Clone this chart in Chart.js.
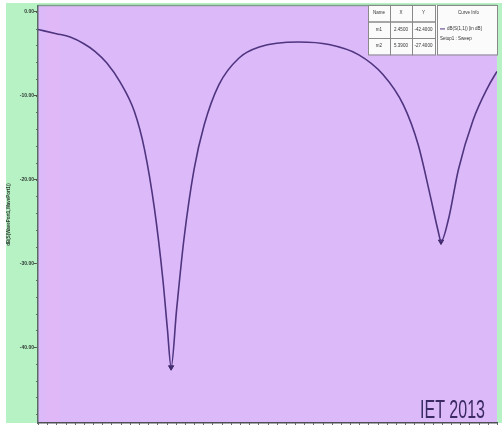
<!DOCTYPE html>
<html>
<head>
<meta charset="utf-8">
<title>Return loss</title>
<script src="https://cdn.jsdelivr.net/npm/chart.js@4/dist/chart.umd.min.js"></script>
<style>
  html, body { margin: 0; padding: 0; background: #ffffff; }
  #wrap { width: 502px; height: 428px; position: relative; }
</style>
</head>
<body>
<div id="wrap"><canvas id="c" width="502" height="428"></canvas></div>
<script>
// Frequency sweep (GHz) and simulated reflection coefficient (dB)
const freqGHz = [1.00, 1.20, 1.35, 1.50, 1.62, 1.75, 1.89, 2.05, 2.16, 2.27, 2.36, 2.41, 2.45, 2.51, 2.59, 2.70, 2.81, 2.97, 3.19, 3.41, 3.84, 4.17, 4.49, 4.76, 4.98, 5.14, 5.27, 5.36, 5.39, 5.47, 5.58, 5.74, 5.90, 6.00];
const s11dB   = [-2.1, -2.6, -3.0, -3.8, -4.7, -6.1, -8.3, -11.9, -16.4, -23.6, -31.9, -37.9, -42.4, -35.5, -27.1, -18.8, -13.5, -8.7, -5.5, -4.2, -3.6, -3.9, -5.1, -7.5, -11.1, -15.8, -21.8, -26.2, -27.4, -24.8, -18.8, -12.9, -9.0, -7.1];

// Markers placed on the two resonances
const markerNames = ['m1', 'm2'];
const markerX = [2.45, 5.39];
const markerY = [-42.4, -27.4];

// Axis ticks
const yTickValues = [0, -10, -20, -30, -40];
const yMinorStep = 2;
const xMinorStep = 0.1;

const curveLabel = 'dB(S(1,1)) [in dB]';
const setupLabel = 'Setup1 : Sweep';
const yTitle = 'dB(S(WavePort1,WavePort1))';
const stampText = 'IET 2013';

const GREEN = '#b7f2c4';
const PLOT_BG = '#dcbafa';
const LINE = '#4f347f';

const backdrop = {
  id: 'backdrop',
  beforeDraw(chart) {
    const { ctx, chartArea: a } = chart;
    ctx.save();
    ctx.fillStyle = '#ffffff';
    ctx.fillRect(0, 0, chart.width, chart.height);
    ctx.fillStyle = GREEN;
    ctx.fillRect(6, 3, chart.width - 6, a.bottom - 3);
    ctx.fillStyle = PLOT_BG;
    ctx.fillRect(a.left, a.top, a.right - a.left, a.bottom - a.top);
    // slightly pinker band near the left edge
    ctx.fillStyle = 'rgba(235,180,240,0.35)';
    ctx.fillRect(a.left + 8, a.top, 14, a.bottom - a.top);
    // frame
    ctx.strokeStyle = '#7f9c8c';
    ctx.lineWidth = 1.5;
    ctx.beginPath();
    ctx.moveTo(a.left, a.top - 0.5);
    ctx.lineTo(a.right, a.top - 0.5);
    ctx.stroke();
    ctx.restore();
  },
  afterDraw(chart) {
    const { ctx, chartArea: a, scales } = chart;
    const y = scales.y, x = scales.x;
    ctx.save();
    // minor ticks on the value axis
    ctx.strokeStyle = '#5d6d66';
    ctx.lineWidth = 1;
    ctx.beginPath();
    for (let v = 0; v >= y.min; v -= yMinorStep) {
      const py = Math.round(y.getPixelForValue(v)) + 0.5;
      ctx.moveTo(a.left - 2, py);
      ctx.lineTo(a.left, py);
    }
    // minor ticks along the frequency axis
    for (let f = x.min; f <= x.max + 1e-9; f += xMinorStep) {
      const px = Math.round(x.getPixelForValue(f)) + 0.5;
      ctx.moveTo(px, a.bottom);
      ctx.lineTo(px, a.bottom + 2);
    }
    ctx.stroke();

    // marker table
    const tx = 368, ty = 5, rowH = 16.5;
    const colW = [22, 22, 23];
    const infoW = 63;
    ctx.fillStyle = '#fbfbfb';
    ctx.fillRect(tx, ty, colW[0] + colW[1] + colW[2] + infoW, rowH * 3);
    ctx.strokeStyle = '#8a8a8a';
    ctx.lineWidth = 1;
    let cx = tx;
    const rows = [['Name', 'X', 'Y']];
    for (let i = 0; i < markerNames.length; i++) {
      rows.push([markerNames[i], markerX[i].toFixed(4), markerY[i].toFixed(4)]);
    }
    ctx.font = '4.5px "Liberation Sans", Arial, sans-serif';
    ctx.textAlign = 'center';
    ctx.textBaseline = 'middle';
    ctx.fillStyle = '#333333';
    for (let r = 0; r < rows.length; r++) {
      cx = tx;
      for (let c = 0; c < 3; c++) {
        ctx.strokeRect(cx + 0.5, ty + r * rowH + 0.5, colW[c], rowH);
        ctx.fillText(rows[r][c], cx + colW[c] / 2, ty + r * rowH + rowH / 2);
        cx += colW[c];
      }
    }
    ctx.strokeRect(cx + 2.5, ty + 0.5, infoW - 3, rowH * 3);
    ctx.fillText('Curve Info', cx + 2 + infoW / 2, ty + rowH / 2);
    ctx.textAlign = 'left';
    ctx.strokeStyle = LINE;
    ctx.beginPath();
    ctx.moveTo(cx + 5, ty + rowH * 1.45);
    ctx.lineTo(cx + 10, ty + rowH * 1.45);
    ctx.stroke();
    ctx.fillText(curveLabel, cx + 12, ty + rowH * 1.45);
    ctx.fillText(setupLabel, cx + 5, ty + rowH * 2.05);

    // stamp
    ctx.fillStyle = '#3b2a63';
    ctx.font = '26px "Liberation Sans", Arial, sans-serif';
    ctx.textAlign = 'left';
    ctx.textBaseline = 'alphabetic';
    const w = ctx.measureText(stampText).width;
    const targetW = 65;
    ctx.translate(420, 418);
    ctx.scale(targetW / w, 1);
    ctx.fillText(stampText, 0, 0);
    ctx.restore();
  }
};

new Chart(document.getElementById('c'), {
  type: 'line',
  data: {
    datasets: [
      {
        label: curveLabel,
        data: freqGHz.map((f, i) => ({ x: f, y: s11dB[i] })),
        borderColor: LINE,
        borderWidth: 1.6,
        pointRadius: 0,
        cubicInterpolationMode: 'monotone',
        fill: false
      },
      {
        label: 'markers',
        data: markerX.map((f, i) => ({ x: f, y: markerY[i] })),
        showLine: false,
        pointStyle: 'triangle',
        rotation: 180,
        pointRadius: 3,
        pointBackgroundColor: '#3e2868',
        pointBorderColor: '#3e2868'
      }
    ]
  },
  options: {
    responsive: false,
    animation: false,
    layout: { padding: { left: 6, top: 6, right: 3, bottom: 0 } },
    plugins: { legend: { display: false }, tooltip: { enabled: false } },
    scales: {
      x: {
        type: 'linear',
        min: 1.0,
        max: 6.0,
        ticks: { display: false },
        grid: { display: false, drawTicks: false },
        border: { display: true, color: '#4d4d55', width: 1.5 },
        afterFit(s) { s.height = 4; }
      },
      y: {
        type: 'linear',
        min: -49.05,
        max: 0.7,
        afterBuildTicks(s) { s.ticks = yTickValues.map(v => ({ value: v })); },
        ticks: {
          padding: 0,
          color: '#2f3a33',
          font: { size: 5, family: '"Liberation Sans", Arial, sans-serif', weight: 'bold' },
          callback: v => v.toFixed(2)
        },
        grid: { drawOnChartArea: false, tickLength: 4, color: '#4d5a52' },
        border: { display: true, color: '#5c6a66', width: 1.5 },
        title: {
          display: true,
          text: yTitle,
          color: '#2f3a33',
          padding: { top: 0, bottom: 2 },
          font: { size: 4.5, family: '"Liberation Sans", Arial, sans-serif', weight: 'bold' }
        },
        afterFit(s) { s.width = 32; }
      }
    }
  },
  plugins: [backdrop]
});
</script>
</body>
</html>
